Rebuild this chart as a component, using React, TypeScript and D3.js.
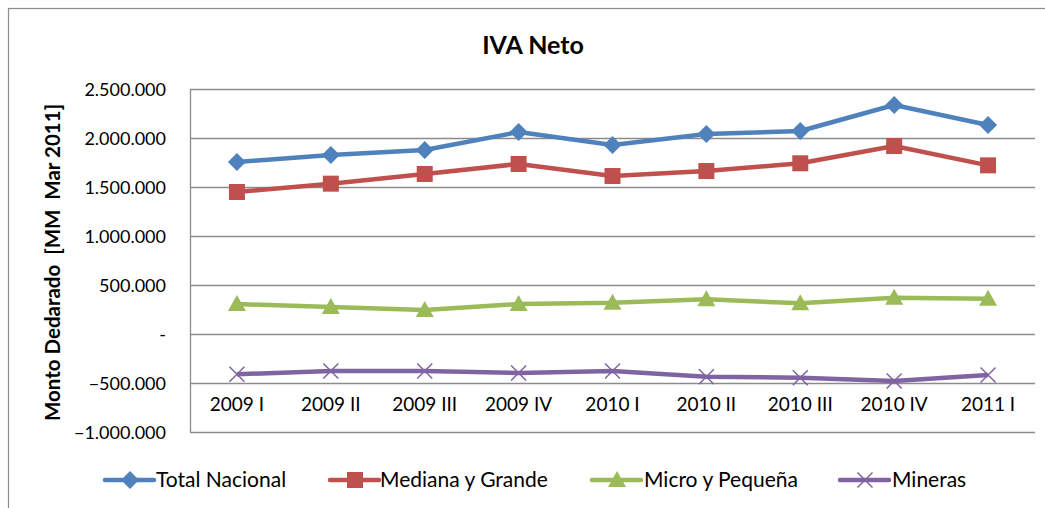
import React from 'react';
import * as d3 from 'd3';

// quarters on the x axis
const categories = ['2009 I', '2009 II', '2009 III', '2009 IV', '2010 I', '2010 II', '2010 III', '2010 IV', '2011 I'];

// series values, MM Mar 2011
const totalNacional = [1755000, 1827000, 1877000, 2061000, 1929000, 2041000, 2071000, 2337000, 2133000];
const medianaGrande = [1449000, 1534000, 1633000, 1735000, 1612000, 1663000, 1742000, 1918000, 1721000];
const microPequena = [306000, 275000, 245000, 306000, 319000, 354000, 313000, 370000, 360000];
const mineras = [-411000, -378000, -378000, -398000, -378000, -436000, -446000, -480000, -418000];

const yTicks = [2500000, 2000000, 1500000, 1000000, 500000, 0, -500000, -1000000];

const seriesNames = ['Total Nacional', 'Mediana y Grande', 'Micro y Pequeña', 'Mineras'];

const font = 'Lato, "Open Sans", sans-serif';

export default function App() {
  const width = 1045, height = 508;
  const margin = { top: 89, right: 10, bottom: 76, left: 190 };
  const innerW = width - margin.left - margin.right;
  const innerH = height - margin.top - margin.bottom;

  const x = d3.scaleBand().domain(categories).range([0, innerW]);
  const y = d3.scaleLinear().domain([-1000000, 2500000]).range([innerH, 0]);

  const fmt = (v: number) => v === 0 ? '-' : d3.format(',')(v).replace(/,/g, '.');

  const series = [
    { name: seriesNames[0], values: totalNacional, color: '#4F81BD', marker: 'diamond' },
    { name: seriesNames[1], values: medianaGrande, color: '#C0504D', marker: 'square' },
    { name: seriesNames[2], values: microPequena, color: '#9BBB59', marker: 'triangle' },
    { name: seriesNames[3], values: mineras, color: '#8064A2', marker: 'x' },
  ];

  const line = d3.line<number>()
    .x((d, i) => (x(categories[i]) as number) + x.bandwidth() / 2)
    .y(d => y(d));

  function marker(kind: string, cx: number, cy: number, color: string, key: string | number) {
    if (kind === 'diamond') {
      const s = 9;
      return <path key={key} d={`M${cx},${cy - s}L${cx + s},${cy}L${cx},${cy + s}L${cx - s},${cy}Z`} fill={color} />;
    }
    if (kind === 'square') {
      return <rect key={key} x={cx - 8} y={cy - 8} width={16} height={16} fill={color} />;
    }
    if (kind === 'triangle') {
      return <path key={key} d={`M${cx},${cy - 9}L${cx + 9},${cy + 7}L${cx - 9},${cy + 7}Z`} fill={color} />;
    }
    const s = 7.5;
    return (
      <path key={key} d={`M${cx - s},${cy - s}L${cx + s},${cy + s}M${cx - s},${cy + s}L${cx + s},${cy - s}`}
        stroke={color} strokeWidth={1.5} fill="none" />
    );
  }

  const legendItems = [
    { lx: 105, tx: 156 },
    { lx: 330, tx: 380 },
    { lx: 592, tx: 644 },
    { lx: 840, tx: 892 },
  ];

  return (
    <svg width={width} height={height} style={{ position: 'absolute', left: 0, top: 0 }}>
      <rect x={0} y={0} width={width} height={height} fill="#fff" />
      <rect x={8.5} y={8.5} width={width + 20} height={height + 20} fill="none" stroke="#8c8c8c" strokeWidth={1.2} />

      <text x={533} y={54} textAnchor="middle" fontFamily={font} fontWeight="bold" fontSize={25}>IVA Neto</text>

      <text transform={`translate(60,${margin.top + innerH / 2 + 2}) rotate(-90)`} textAnchor="middle"
        fontFamily={font} fontWeight="bold" fontSize={20.5} style={{ whiteSpace: 'pre' }}>
        {'Monto Dedarado  [MM  Mar 2011]'}
      </text>

      <g transform={`translate(${margin.left},${margin.top})`}>
        {yTicks.map(t => (
          <g key={t}>
            <line x1={0} x2={innerW} y1={Math.round(y(t)) + 0.5} y2={Math.round(y(t)) + 0.5} stroke="#8c8c8c" strokeWidth={1.3} />
            <text x={-24} y={y(t) + 6.5} textAnchor="end" fontFamily={font} fontSize={18}>{fmt(t)}</text>
          </g>
        ))}
        <line x1={0.5} x2={0.5} y1={0} y2={innerH} stroke="#8c8c8c" strokeWidth={1.3} />

        {categories.map(c => (
          <text key={c} x={(x(c) as number) + x.bandwidth() / 2} y={y(-500000) + 28} textAnchor="middle"
            fontFamily={font} fontSize={19}>{c}</text>
        ))}

        {series.map(s => (
          <g key={s.name}>
            <path d={line(s.values) || ''} fill="none" stroke={s.color} strokeWidth={4.5} strokeLinejoin="round" />
            {s.values.map((v, i) =>
              marker(s.marker, (x(categories[i]) as number) + x.bandwidth() / 2, y(v), s.color, i))}
          </g>
        ))}
      </g>

      {series.map((s, i) => {
        const it = legendItems[i];
        const ly = 480;
        return (
          <g key={s.name}>
            <line x1={it.lx} x2={it.lx + 49} y1={ly} y2={ly} stroke={s.color} strokeWidth={4.5} strokeLinecap="round" />
            {marker(s.marker, it.lx + 25, ly, s.color, 'm')}
            <text x={it.tx} y={ly + 7} fontFamily={font} fontSize={21}>{s.name}</text>
          </g>
        );
      })}
    </svg>
  );
}
